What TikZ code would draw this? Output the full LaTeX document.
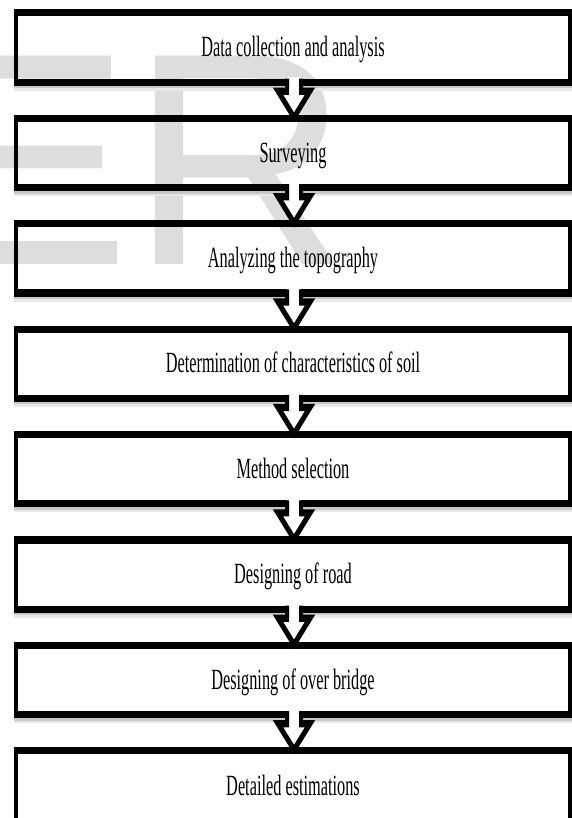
\documentclass[tikz,border=0pt]{standalone}
\usepackage{fontspec}
\setmainfont{Liberation Serif}
\newfontfamily\wmfont{Liberation Sans}
\usetikzlibrary{calc}
\definecolor{wmgray}{RGB}{221,221,221}
\tikzset{
  flowbox/.style={draw=black, line width=4pt, minimum width=554pt, minimum height=38.5pt,
    inner sep=0pt, outer sep=0pt, text height=10pt, text depth=0pt,
    font=\fontsize{16.3}{19}\selectfont},
  arrowline/.style={draw=black, line width=4pt, line join=miter},
  boxshadow/.style={fill=black!22},
  boxshadowsoft/.style={fill=black!9}
}
\newcommand\flowarrow[2]{%
  \fill[white] ($(#1.south)+(-6,-5)$) -- ($(#1.south)+(-6,9)$) -- ($(#1.south)+(-15,9)$)
    -- ($(#2.north)+(1,-1)$) -- ($(#1.south)+(17,9)$) -- ($(#1.south)+(8,9)$)
    -- ($(#1.south)+(8,-5)$) -- cycle;
  \draw[arrowline] ($(#1.south)+(-6,-3.6)$) -- ($(#1.south)+(-6,9)$) -- ($(#1.south)+(-15,9)$)
    -- ($(#2.north)+(1,-1)$) -- ($(#1.south)+(17,9)$) -- ($(#1.south)+(8,9)$)
    -- ($(#1.south)+(8,-3.6)$);
}
\newcommand\boxshade[1]{%
  \fill[boxshadow] ($(#1.south west)+(-2,3.6)$) rectangle ($(#1.south east)+(2,6)$);
  \fill[boxshadowsoft] ($(#1.south west)+(-2,6)$) rectangle ($(#1.south east)+(2,8.5)$);
}
\begin{document}
\begin{tikzpicture}
\useasboundingbox (0pt,0pt) rectangle (571pt,-818pt);
\fill[white] (0pt,0pt) rectangle (571pt,-818pt);
\node[anchor=base west, inner sep=0pt, text=wmgray, font=\wmfont\fontsize{303}{303}\selectfont] (wm) at (-72pt,-264pt) {ER};
\begin{scope}[x=1pt, y=-0.5556pt, transform canvas={yscale=1.8}]
  \node[flowbox] (b1) at (293,47.5) {Data collection and analysis};
  \node[flowbox] (b2) at (293,153.0) {Surveying};
  \node[flowbox] (b3) at (293,258.4) {Analyzing the topography};
  \node[flowbox] (b4) at (293,363.8) {Determination of characteristics of soil};
  \node[flowbox] (b5) at (293,469.2) {Method selection};
  \node[flowbox] (b6) at (293,574.6) {Designing of road};
  \node[flowbox] (b7) at (293,680.0) {Designing of over bridge};
  \node[flowbox, minimum height=55.6pt, text height=0pt, text depth=6.2pt] (b8) at (293,800.6) {Detailed estimations};
  \boxshade{b1}\boxshade{b2}\boxshade{b3}\boxshade{b4}\boxshade{b5}\boxshade{b6}\boxshade{b7}
  \flowarrow{b1}{b2}
  \flowarrow{b2}{b3}
  \flowarrow{b3}{b4}
  \flowarrow{b4}{b5}
  \flowarrow{b5}{b6}
  \flowarrow{b6}{b7}
  \flowarrow{b7}{b8}
\end{scope}
\end{tikzpicture}
\end{document}
